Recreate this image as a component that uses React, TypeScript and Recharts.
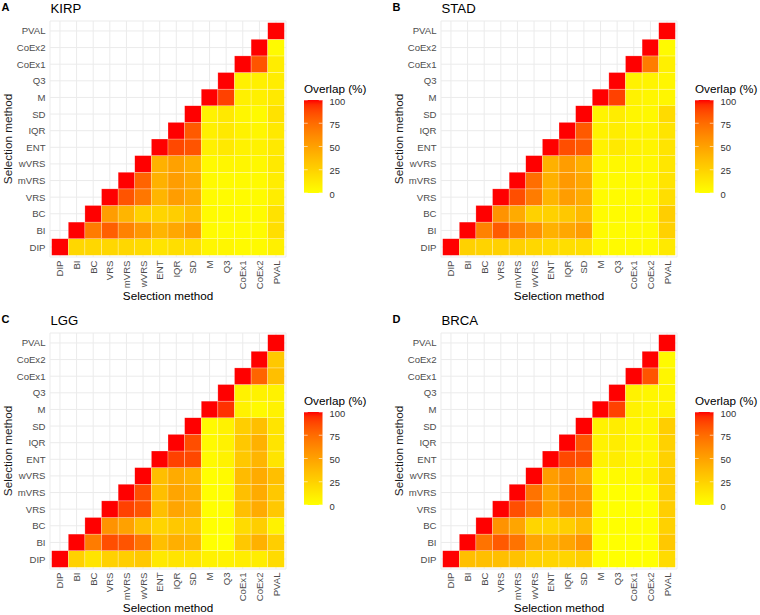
import React from "react";
import { ScatterChart, Scatter, XAxis, YAxis, CartesianGrid } from "recharts";

const methods = ["DIP", "BI", "BC", "VRS", "mVRS", "wVRS", "ENT", "IQR", "SD", "M", "Q3", "CoEx1", "CoEx2", "PVAL"];
const legendBreaks = [0, 25, 50, 75, 100];
const tags = ["A", "B", "C", "D"];
const titles = ["KIRP", "STAD", "LGG", "BRCA"];

// overlap (%) — upper triangle, row i holds columns i..13 (diagonal first)
const kirp = [
  [100, 22, 22, 22, 22, 20, 15, 18, 18, 5, 5, 3, 3, 8],
  [100, 68, 80, 65, 55, 40, 47, 52, 2, 2, 2, 2, 18],
  [100, 52, 40, 25, 23, 27, 35, 2, 2, 2, 2, 16],
  [100, 84, 70, 40, 52, 45, 2, 2, 2, 2, 10],
  [100, 78, 42, 52, 45, 3, 3, 3, 3, 10],
  [100, 42, 50, 43, 3, 5, 5, 4, 12],
  [100, 88, 84, 8, 12, 7, 7, 12],
  [100, 82, 8, 12, 7, 5, 12],
  [100, 7, 12, 5, 3, 16],
  [100, 90, 8, 8, 12],
  [100, 8, 8, 10],
  [100, 84, 10],
  [100, 3],
  [100],
];

const stad = [
  [100, 25, 24, 25, 25, 22, 20, 18, 18, 3, 3, 3, 3, 12],
  [100, 65, 82, 68, 58, 42, 47, 52, 2, 2, 2, 2, 25],
  [100, 57, 45, 25, 25, 30, 38, 2, 2, 2, 2, 27],
  [100, 86, 68, 40, 52, 45, 2, 2, 2, 2, 18],
  [100, 74, 42, 54, 47, 3, 3, 3, 3, 15],
  [100, 42, 52, 43, 3, 4, 4, 4, 14],
  [100, 86, 82, 7, 12, 7, 6, 15],
  [100, 82, 7, 10, 6, 6, 15],
  [100, 6, 10, 5, 4, 20],
  [100, 90, 7, 5, 5],
  [100, 7, 6, 5],
  [100, 68, 8],
  [100, 3],
  [100],
];

const lgg = [
  [100, 25, 15, 25, 27, 30, 12, 15, 15, 7, 7, 10, 10, 20],
  [100, 68, 86, 84, 72, 35, 43, 40, 0, 0, 30, 42, 27],
  [100, 57, 50, 35, 23, 30, 30, 0, 0, 20, 27, 7],
  [100, 90, 84, 35, 48, 43, 0, 2, 35, 45, 30],
  [100, 86, 35, 48, 43, 0, 2, 35, 45, 30],
  [100, 35, 45, 40, 0, 3, 37, 45, 35],
  [100, 90, 88, 3, 7, 30, 40, 15],
  [100, 86, 3, 7, 30, 42, 15],
  [100, 3, 7, 27, 35, 15],
  [100, 94, 7, 3, 7],
  [100, 7, 7, 7],
  [100, 78, 35],
  [100, 30],
  [100],
];

const brca = [
  [100, 35, 35, 35, 33, 25, 23, 23, 27, 0, 0, 0, 0, 20],
  [100, 72, 82, 72, 48, 42, 48, 57, 0, 0, 0, 0, 30],
  [100, 57, 48, 23, 23, 27, 36, 0, 0, 0, 0, 25],
  [100, 86, 70, 48, 60, 57, 0, 0, 0, 0, 27],
  [100, 72, 48, 60, 57, 0, 0, 0, 0, 27],
  [100, 52, 60, 48, 0, 3, 3, 7, 27],
  [100, 88, 86, 7, 10, 5, 5, 25],
  [100, 84, 7, 10, 5, 5, 25],
  [100, 7, 10, 5, 5, 27],
  [100, 90, 7, 5, 7],
  [100, 7, 5, 5],
  [100, 84, 5],
  [100, 3],
  [100],
];

const matrices = [kirp, stad, lgg, brca];

// ---- yellow -> red gradient, interpolated in Lab like ggplot ----
const WX = 0.95047, WZ = 1.08883;
const lin = (c: number) => { c /= 255; return c <= 0.04045 ? c / 12.92 : Math.pow((c + 0.055) / 1.055, 2.4); };
const gam = (c: number) => {
  const v = c <= 0.0031308 ? 12.92 * c : 1.055 * Math.pow(Math.max(c, 0), 1 / 2.4) - 0.055;
  return Math.round(Math.min(1, Math.max(0, v)) * 255);
};
const fl = (t: number) => (t > 216 / 24389 ? Math.cbrt(t) : ((24389 / 27) * t + 16) / 116);
const finv = (t: number) => (t * t * t > 216 / 24389 ? t * t * t : (116 * t - 16) / (24389 / 27));

function toLab(r: number, g: number, b: number) {
  const R = lin(r), G = lin(g), B = lin(b);
  const X = 0.4124564 * R + 0.3575761 * G + 0.1804375 * B;
  const Y = 0.2126729 * R + 0.7151522 * G + 0.072175 * B;
  const Z = 0.0193339 * R + 0.119192 * G + 0.9503041 * B;
  const fx = fl(X / WX), fy = fl(Y), fz = fl(Z / WZ);
  return [116 * fy - 16, 500 * (fx - fy), 200 * (fy - fz)];
}

function fromLab(L: number, a: number, b: number) {
  const fy = (L + 16) / 116, fx = fy + a / 500, fz = fy - b / 200;
  const X = WX * finv(fx), Y = finv(fy), Z = WZ * finv(fz);
  const R = 3.2404542 * X - 1.5371385 * Y - 0.4985314 * Z;
  const G = -0.969266 * X + 1.8760108 * Y + 0.041556 * Z;
  const B = 0.0556434 * X - 0.2040259 * Y + 1.0572252 * Z;
  return `rgb(${gam(R)},${gam(G)},${gam(B)})`;
}

const LOW = toLab(255, 255, 0);
const HIGH = toLab(255, 0, 0);
function fillFor(v: number) {
  const t = Math.min(1, Math.max(0, v / 100));
  return fromLab(
    LOW[0] + (HIGH[0] - LOW[0]) * t,
    LOW[1] + (HIGH[1] - LOW[1]) * t,
    LOW[2] + (HIGH[2] - LOW[2]) * t
  );
}

// ---- layout ----
const W = 380, H = 305;
const PL = 50, PT = 21, PW = 236, PH = 236;
const CELL = PW / 14.2;
const FONT = "'Liberation Sans', Arial, Helvetica, sans-serif";
const idx = methods.map((_, i) => i);

function Tile(props: any) {
  const { cx, cy, payload } = props;
  if (cx == null || cy == null) return null;
  return (
    <rect
      x={cx - CELL / 2}
      y={cy - CELL / 2}
      width={CELL}
      height={CELL}
      fill={fillFor(payload.v)}
      stroke="#ffffff"
      strokeOpacity={0.5}
      strokeWidth={0.5}
    />
  );
}

function XTick(props: any) {
  const { x, payload } = props;
  const y = PT + PH + 3.5;
  return (
    <text
      x={x}
      y={y}
      transform={`rotate(-90, ${x}, ${y})`}
      textAnchor="end"
      dominantBaseline="central"
      fontSize={9.6}
      fontFamily={FONT}
      fill="#4D4D4D"
    >
      {methods[payload.value]}
    </text>
  );
}

function YTick(props: any) {
  const { y, payload } = props;
  return (
    <text x={PL - 4.5} y={y} textAnchor="end" dominantBaseline="central" fontSize={9.6} fontFamily={FONT} fill="#4D4D4D">
      {methods[payload.value]}
    </text>
  );
}

function Panel({ k }: { k: number }) {
  const rows = matrices[k];
  const cells = rows.flatMap((row, i) => row.map((v, c) => ({ x: i + c, y: i, v })));
  const ox = (k % 2) * 391;
  const oy = Math.floor(k / 2) * 312;
  const barX = 304, barY = 100, barW = 18.5, barH = 93;
  const gid = `ovl${k}`;
  return (
    <div style={{ position: "absolute", left: ox, top: oy, width: W, height: H }}>
      <ScatterChart width={W} height={H} margin={{ top: PT, right: W - PL - PW, bottom: H - PT - PH - 40, left: 0 }}>
        <CartesianGrid stroke="#EBEBEB" strokeWidth={1} />
        <XAxis
          type="number"
          dataKey="x"
          domain={[-0.6, 13.6]}
          ticks={idx}
          interval={0}
          allowDataOverflow
          axisLine={false}
          tickLine={false}
          tickSize={0}
          tickMargin={0}
          height={40}
          tick={<XTick />}
        />
        <YAxis
          type="number"
          dataKey="y"
          domain={[-0.6, 13.6]}
          ticks={idx}
          interval={0}
          allowDataOverflow
          axisLine={false}
          tickLine={false}
          tickSize={0}
          tickMargin={0}
          width={PL}
          tick={<YTick />}
        />
        <Scatter data={cells} shape={Tile} isAnimationActive={false} />
      </ScatterChart>
      <svg width={W} height={H} style={{ position: "absolute", left: 0, top: 0, pointerEvents: "none" }}>
        <defs>
          <linearGradient id={gid} x1="0" y1="1" x2="0" y2="0">
            {Array.from({ length: 21 }, (_, s) => (
              <stop key={s} offset={`${s * 5}%`} stopColor={fillFor(s * 5)} />
            ))}
          </linearGradient>
        </defs>
        <text x={1.5} y={10.5} fontSize={11} fontWeight="bold" fontFamily={FONT} fill="#000">{tags[k]}</text>
        <text x={PL + 0.5} y={12.5} fontSize={13.2} fontFamily={FONT} fill="#000">{titles[k]}</text>
        <text
          x={11.5}
          y={PT + PH / 2}
          transform={`rotate(-90, 11.5, ${PT + PH / 2})`}
          textAnchor="middle"
          fontSize={11.7}
          fontFamily={FONT}
          fill="#1a1a1a"
        >
          Selection method
        </text>
        <text x={PL + PW / 2} y={299.5} textAnchor="middle" fontSize={11.7} fontFamily={FONT} fill="#000">
          Selection method
        </text>
        <text x={barX} y={92.8} fontSize={11.7} fontFamily={FONT} fill="#000">Overlap (%)</text>
        <rect x={barX} y={barY} width={barW} height={barH} fill={`url(#${gid})`} />
        {legendBreaks.map((b) => {
          const yy = barY + barH * (1 - b / 100);
          return (
            <g key={b}>
              <line x1={barX} x2={barX + barW / 5} y1={yy} y2={yy} stroke="#fff" strokeWidth={0.6} />
              <line x1={barX + barW - barW / 5} x2={barX + barW} y1={yy} y2={yy} stroke="#fff" strokeWidth={0.6} />
              <text x={barX + 25.5} y={yy + 1.2} dominantBaseline="central" fontSize={9.4} fontFamily={FONT} fill="#333">
                {b}
              </text>
            </g>
          );
        })}
      </svg>
    </div>
  );
}

export default function App() {
  return (
    <div style={{ position: "absolute", left: 0, top: 0, width: 760, height: 615, background: "#fff" }}>
      {[0, 1, 2, 3].map((k) => (
        <Panel key={k} k={k} />
      ))}
    </div>
  );
}
